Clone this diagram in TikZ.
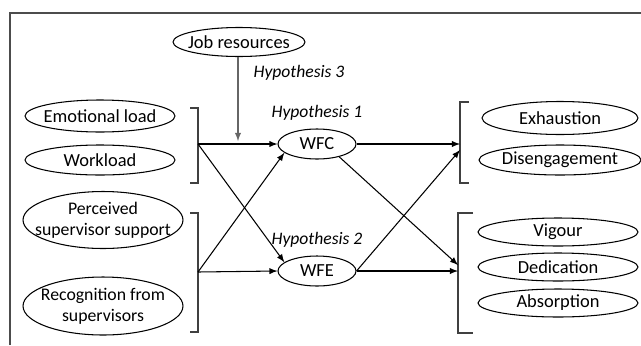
\documentclass[tikz,border=0pt]{standalone}
\usepackage{fontspec}
\setmainfont{Carlito}
\usetikzlibrary{shapes.geometric}
\tikzset{
  oval/.style={draw,ellipse,inner sep=0pt,line width=0.6pt},
  ovaltext/.style={label={[align=center,inner sep=0pt]center:#1}},
  ovaltwo/.style={label={[align=center,inner sep=0pt,font=\fontsize{10.1}{12}\selectfont]center:#1}},
  hypo/.style={font=\itshape},
  bracketline/.style={draw=black!75,line width=0.6pt},
  link/.style={->,line width=0.6pt}
}
\begin{document}
\begin{tikzpicture}[x=0.02cm,y=-0.02cm,>=latex,font=\fontsize{10.5}{12.5}\selectfont]
	\useasboundingbox (0,0) rectangle (641,345);
	%keret
	\draw [black!70,line width=0.6pt] (10,345) -- (10,13) -- (641,13);
	%bal oldal
	\node (jobres) at (239,42) [oval,minimum width=2.64cm,minimum height=0.58cm,ovaltext={Job resources}] {};
	\node (emo) at (100,116) [oval,minimum width=3cm,minimum height=0.64cm,ovaltext={Emotional load}] {};
	\node (work) at (100,160) [oval,minimum width=3cm,minimum height=0.6cm,ovaltext={Workload}] {};
	\node (pss) at (103,220) [oval,minimum width=3.2cm,minimum height=1.14cm,ovaltwo={Perceived\\supervisor support}] {};
	\node (recog) at (103,306) [oval,minimum width=3.2cm,minimum height=1.16cm,ovaltwo={Recognition from\\supervisors}] {};
	%kozep
	\node (wfc) at (317,144) [oval,minimum width=1.56cm,minimum height=0.6cm,ovaltext={WFC}] {};
	\node (wfe) at (317,271) [oval,minimum width=1.56cm,minimum height=0.6cm,ovaltext={WFE}] {};
	\node (hypa) at (317,113) [hypo] {Hypothesis 1};
	\node (hypb) at (317,240) [hypo] {Hypothesis 2};
	\node (hypc) at (299,73) [hypo] {Hypothesis 3};
	%jobb oldal
	\node (exh) at (560,118) [oval,minimum width=3.12cm,minimum height=0.66cm,ovaltext={Exhaustion}] {};
	\node (dis) at (560,160) [oval,minimum width=3.24cm,minimum height=0.6cm,ovaltext={Disengagement}] {};
	\node (vig) at (558,232) [oval,minimum width=3.2cm,minimum height=0.56cm,ovaltext={Vigour}] {};
	\node (ded) at (558,267) [oval,minimum width=3.2cm,minimum height=0.56cm,ovaltext={Dedication}] {};
	\node (abs) at (558,303) [oval,minimum width=3.2cm,minimum height=0.56cm,ovaltext={Absorption}] {};
	%zarojelek
	\draw [bracketline] (190,108) -- (198,108) -- (198,183) -- (190,183);
	\draw [bracketline] (190,213) -- (198,213) -- (198,332) -- (190,332);
	\draw [bracketline] (469,102) -- (460,102) -- (460,183) -- (469,183);
	\draw [bracketline] (473,213) -- (458,213) -- (458,333) -- (473,333);
	\coordinate (demands) at (198,144);
	\coordinate (support) at (198,272);
	\coordinate (burnout) at (460,144);
	\coordinate (burnoutb) at (460,150);
	\coordinate (engage) at (458,271);
	\coordinate (engageb) at (458,265);
	\coordinate (moder) at (238,141);
	%nyilak
	\draw [link] (demands) -- (wfc.west);
	\draw [link] (demands) -- (wfe.165);
	\draw [link] (support) -- (wfe.west);
	\draw [link] (support) -- (wfc.195);
	\draw [link] (wfc.east) -- (burnout);
	\draw [link] (wfc.-30) -- (engageb);
	\draw [link] (wfe.east) -- (engage);
	\draw [link] (wfe.east) -- (burnoutb);
	\draw [->,black!60,line width=0.6pt] (jobres.south -| moder) -- (moder);
\end{tikzpicture}
\end{document}
